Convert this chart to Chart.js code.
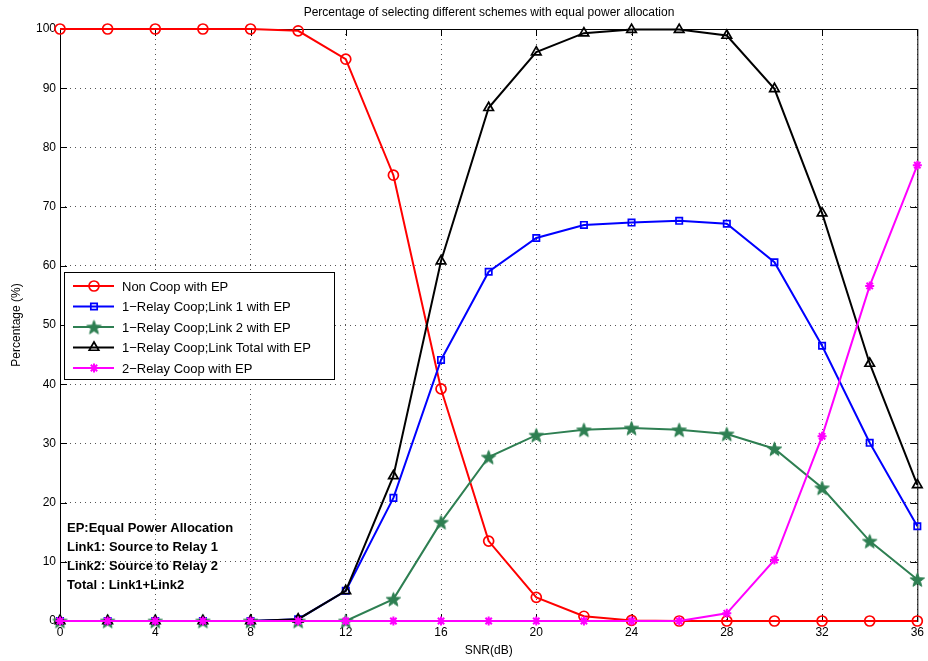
<!DOCTYPE html>
<html>
<head>
<meta charset="utf-8">
<script src="https://cdn.jsdelivr.net/npm/chart.js@4/dist/chart.umd.min.js"></script>
<style>
  html, body { margin: 0; padding: 0; background: #fff; }
  #wrap { width: 928px; height: 661px; }
</style>
</head>
<body>
<div id="wrap"><canvas id="chart" width="928" height="661"></canvas></div>
<script>
// SNR values (dB)
const snr = [0, 2, 4, 6, 8, 10, 12, 14, 16, 18, 20, 22, 24, 26, 28, 30, 32, 34, 36];

// percentages
const nonCoop    = [100, 100, 100, 100, 100, 99.7, 94.9, 75.3, 39.2, 13.5, 4.0, 0.8, 0.1, 0, 0, 0, 0, 0, 0];
const relayLink1 = [0, 0, 0, 0, 0, 0.3, 5.1, 20.8, 44.1, 59.0, 64.7, 66.9, 67.3, 67.6, 67.1, 60.6, 46.5, 30.1, 16.0];
const relayLink2 = [0, 0, 0, 0, 0, 0, 0, 3.7, 16.7, 27.7, 31.4, 32.3, 32.6, 32.3, 31.6, 29.1, 22.5, 13.5, 7.0];
const relayTotal = [0, 0, 0, 0, 0, 0.3, 5.1, 24.5, 60.8, 86.7, 96.1, 99.3, 99.9, 99.9, 98.9, 89.9, 68.9, 43.5, 23.0];
const twoRelay   = [0, 0, 0, 0, 0, 0, 0, 0, 0, 0, 0, 0, 0, 0, 1.3, 10.3, 31.2, 56.6, 77.0];

const seriesNames = [
    'Non Coop with EP',
    '1\u2212Relay Coop;Link 1 with EP',
    '1\u2212Relay Coop;Link 2 with EP',
    '1\u2212Relay Coop;Link Total with EP',
    '2\u2212Relay Coop with EP'
];
const notes = [
    'EP:Equal Power Allocation',
    'Link1: Source to Relay 1',
    'Link2: Source to Relay 2',
    'Total : Link1+Link2'
];

const RED = '#ff0000', BLUE = '#0000ff', GREEN = '#2e7f52', BLACK = '#000000', MAGENTA = '#ff00ff';
const FONT = '"Liberation Sans", Arial, Helvetica, sans-serif';

// filled five point star (matlab pentagram marker)
function makePentagram(color, r){
    const c = document.createElement('canvas');
    const s = Math.ceil(r * 2 + 2);
    c.width = s; c.height = s;
    const ctx = c.getContext('2d');
    ctx.beginPath();
    for(let i = 0; i < 10; i++){
        const rad = i % 2 === 0 ? r : r * 0.42;
        const a = -Math.PI / 2 + i * Math.PI / 5;
        const x = s / 2 + rad * Math.cos(a);
        const y = s / 2 + 0.8 + rad * Math.sin(a);
        if(i === 0) ctx.moveTo(x, y); else ctx.lineTo(x, y);
    }
    ctx.closePath();
    ctx.fillStyle = color;
    ctx.fill();
    ctx.strokeStyle = color;
    ctx.lineWidth = 1;
    ctx.stroke();
    return c;
}
const pentagram = makePentagram(GREEN, 7.5);

const xTicks = [0, 4, 8, 12, 16, 20, 24, 28, 32, 36];
const yTicks = [0, 10, 20, 30, 40, 50, 60, 70, 80, 90, 100];

function toPoints(values){
    return values.map((v, i) => ({x: snr[i], y: v}));
}

// box, inward ticks, title, legend and notes, drawn like matlab
const matlabFrame = {
    id: 'matlabFrame',
    beforeDatasetsDraw(chart){
        const ctx = chart.ctx;
        const a = chart.chartArea;
        const xs = chart.scales.x, ys = chart.scales.y;
        ctx.save();
        ctx.strokeStyle = '#000';
        ctx.lineWidth = 1;
        ctx.strokeRect(a.left + 0.5, a.top + 0.5, a.right - a.left, a.bottom - a.top);
        ctx.beginPath();
        xTicks.forEach(t => {
            const px = Math.round(xs.getPixelForValue(t)) + 0.5;
            ctx.moveTo(px, a.bottom); ctx.lineTo(px, a.bottom - 7);
            ctx.moveTo(px, a.top); ctx.lineTo(px, a.top + 7);
        });
        yTicks.forEach(t => {
            const py = Math.round(ys.getPixelForValue(t)) + 0.5;
            ctx.moveTo(a.left, py); ctx.lineTo(a.left + 7, py);
            ctx.moveTo(a.right, py); ctx.lineTo(a.right - 7, py);
        });
        ctx.stroke();
        ctx.restore();
    },
    afterDraw(chart){
        const ctx = chart.ctx;
        ctx.save();
        // title
        ctx.fillStyle = '#000';
        ctx.font = '12px ' + FONT;
        ctx.textAlign = 'center';
        ctx.textBaseline = 'middle';
        ctx.fillText('Percentage of selecting different schemes with equal power allocation', 489, 13);

        // y axis label
        ctx.save();
        ctx.translate(17, 325);
        ctx.rotate(-Math.PI / 2);
        ctx.fillText('Percentage (%)', 0, 0);
        ctx.restore();

        // legend box
        const lx = 64, ly = 272, lw = 270, lh = 107;
        ctx.fillStyle = '#fff';
        ctx.fillRect(lx, ly, lw, lh);
        ctx.strokeStyle = '#000';
        ctx.lineWidth = 1;
        ctx.strokeRect(lx + 0.5, ly + 0.5, lw, lh);
        chart.data.datasets.forEach((ds, i) => {
            const y = ly + 14 + i * 20.5;
            ctx.strokeStyle = ds.borderColor;
            ctx.lineWidth = 2;
            ctx.beginPath();
            ctx.moveTo(lx + 9, y); ctx.lineTo(lx + 50, y);
            ctx.stroke();
            ctx.fillStyle = ds.pointBackgroundColor;
            ctx.strokeStyle = ds.pointBorderColor;
            ctx.lineWidth = ds.pointBorderWidth;
            Chart.helpers.drawPoint(ctx, {
                pointStyle: ds.pointStyle,
                radius: ds.pointRadius,
                rotation: 0,
                borderWidth: ds.pointBorderWidth
            }, lx + 30, y);
            ctx.fillStyle = '#000';
            ctx.font = '13px ' + FONT;
            ctx.textAlign = 'left';
            ctx.textBaseline = 'middle';
            ctx.fillText(ds.label, lx + 58, y + 1);
        });

        // notes
        ctx.font = 'bold 13px ' + FONT;
        ctx.fillStyle = '#000';
        ctx.textAlign = 'left';
        notes.forEach((n, i) => ctx.fillText(n, 67, 528 + i * 19.3));
        ctx.restore();
    }
};

function dataset(label, values, color, style, radius, order){
    return {
        label: label,
        data: toPoints(values),
        borderColor: color,
        backgroundColor: 'rgba(0,0,0,0)',
        pointBorderColor: color,
        pointBackgroundColor: 'rgba(0,0,0,0)',
        pointStyle: style,
        pointRadius: radius,
        pointBorderWidth: style === 'star' ? 2 : 1.7,
        borderWidth: 2,
        tension: 0,
        clip: false,
        order: order
    };
}

new Chart(document.querySelector('#chart').getContext('2d'), {
    type: 'line',
    data: {
        datasets: [
            dataset(seriesNames[0], nonCoop, RED, 'circle', 5, 5),
            dataset(seriesNames[1], relayLink1, BLUE, 'rect', 4.5, 4),
            dataset(seriesNames[2], relayLink2, GREEN, pentagram, 7, 3),
            dataset(seriesNames[3], relayTotal, BLACK, 'triangle', 5.5, 2),
            dataset(seriesNames[4], twoRelay, MAGENTA, 'star', 4.5, 1)
        ]
    },
    options: {
        responsive: false,
        animation: false,
        layout: { padding: { top: 29, right: 10, left: 0, bottom: 0 } },
        plugins: {
            legend: { display: false },
            tooltip: { enabled: false }
        },
        scales: {
            x: {
                type: 'linear',
                min: 0, max: 36,
                afterBuildTicks: s => { s.ticks = xTicks.map(v => ({value: v})); },
                afterFit: s => { s.height = 40; },
                grid: { color: '#555', lineWidth: 1, drawTicks: false },
                border: { display: false, dash: [1, 4] },
                ticks: { color: '#000', font: { size: 12, family: FONT }, padding: 4, maxRotation: 0 },
                title: { display: true, text: 'SNR(dB)', color: '#000', font: { size: 12, family: FONT }, padding: { top: 0, bottom: 3 } }
            },
            y: {
                min: 0, max: 100,
                afterBuildTicks: s => { s.ticks = yTicks.map(v => ({value: v})); },
                afterFit: s => { s.width = 60; },
                grid: { color: '#555', lineWidth: 1, drawTicks: false },
                border: { display: false, dash: [1, 4] },
                ticks: { color: '#000', font: { size: 12, family: FONT }, padding: 4 },
                title: { display: false }
            }
        }
    },
    plugins: [matlabFrame]
});
</script>
</body>
</html>
